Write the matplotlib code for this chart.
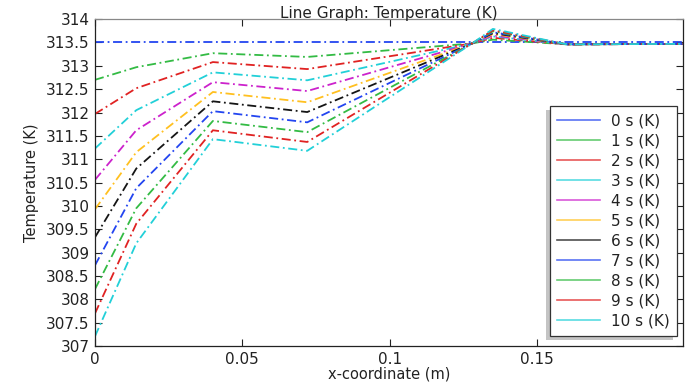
import matplotlib
matplotlib.use("Agg")
import matplotlib.pyplot as plt
from matplotlib.lines import Line2D
from matplotlib.patches import Rectangle
from matplotlib.ticker import FormatStrFormatter, MultipleLocator

# x positions of the polyline vertices (m)
x_coord = [0.0, 0.014, 0.04, 0.072, 0.128, 0.135, 0.16, 0.2]

labels = ["0 s (K)", "1 s (K)", "2 s (K)", "3 s (K)", "4 s (K)", "5 s (K)",
          "6 s (K)", "7 s (K)", "8 s (K)", "9 s (K)", "10 s (K)"]

t0 = [313.5, 313.5, 313.5, 313.5, 313.5, 313.5, 313.5, 313.5]
t1 = [312.70, 312.97, 313.27, 313.19, 313.48, 313.56, 313.46, 313.47]
t2 = [311.97, 312.52, 313.08, 312.93, 313.48, 313.60, 313.46, 313.47]
t3 = [311.23, 312.05, 312.86, 312.69, 313.48, 313.63, 313.46, 313.47]
t4 = [310.56, 311.62, 312.65, 312.46, 313.48, 313.65, 313.46, 313.47]
t5 = [309.93, 311.15, 312.44, 312.22, 313.48, 313.68, 313.46, 313.47]
t6 = [309.33, 310.80, 312.24, 312.01, 313.48, 313.70, 313.46, 313.47]
t7 = [308.73, 310.38, 312.03, 311.79, 313.48, 313.72, 313.46, 313.47]
t8 = [308.22, 309.95, 311.82, 311.58, 313.48, 313.74, 313.46, 313.47]
t9 = [307.70, 309.62, 311.62, 311.37, 313.48, 313.76, 313.46, 313.47]
t10 = [307.21, 309.20, 311.43, 311.18, 313.48, 313.79, 313.46, 313.47]
series = [t0, t1, t2, t3, t4, t5, t6, t7, t8, t9, t10]

colors = ["#2345f0", "#33bb44", "#e02222", "#22d0d8", "#cc22cc", "#ffc020",
          "#151515", "#2345f0", "#33bb44", "#e02222", "#22d0d8"]

fig = plt.figure(figsize=(6.85, 3.82), dpi=100)
ax = fig.add_axes([0.1387, 0.094, 0.8583, 0.856])

for vals, c in zip(series, colors):
    ax.plot(x_coord, vals, color=c, lw=1.3, dashes=(5, 2, 1, 2))

ax.set_xlim(0, 0.1995)
ax.set_ylim(307, 314)
ax.xaxis.set_major_locator(MultipleLocator(0.05))
ax.yaxis.set_major_locator(MultipleLocator(0.5))
ax.xaxis.set_major_formatter(FormatStrFormatter("%g"))
ax.yaxis.set_major_formatter(FormatStrFormatter("%g"))
ax.tick_params(direction="in", top=True, right=True, length=5, width=0.8,
               labelsize=11, colors="#222222", pad=4)
for s in ax.spines.values():
    s.set_linewidth(0.9)
    s.set_color("#222222")
ax.spines["top"].set_color("#888888")

ax.set_title("Line Graph: Temperature (K)", fontsize=11, pad=1, color="#222222")
ax.set_xlabel("x-coordinate (m)", fontsize=10.5, labelpad=0, color="#222222")
ax.set_ylabel("Temperature (K)", fontsize=10.5, labelpad=5, color="#222222")

handles = [Line2D([], [], color=c, lw=1.2, alpha=0.75) for c in colors]
leg = ax.legend(handles, labels, loc="lower right", bbox_to_anchor=(0.99, 0.03),
                borderaxespad=0, fontsize=11, frameon=True, fancybox=False,
                shadow=False, framealpha=1, edgecolor="#333333",
                handlelength=2.8, handletextpad=0.7, labelspacing=0.33,
                borderpad=0.5)
leg.get_frame().set_linewidth(0.9)
leg.set_zorder(6)
for t in leg.get_texts():
    t.set_color("#222222")

# light gray shadow offset down-left, like the reference
fig.canvas.draw()
bb = leg.get_window_extent()
shadow = Rectangle((bb.x0 - 4, bb.y0 - 4), bb.width, bb.height,
                   transform=None, facecolor="#c4c4c4", edgecolor="none", zorder=5.5)
ax.add_artist(shadow)

fig.savefig("out.png", dpi=100)
